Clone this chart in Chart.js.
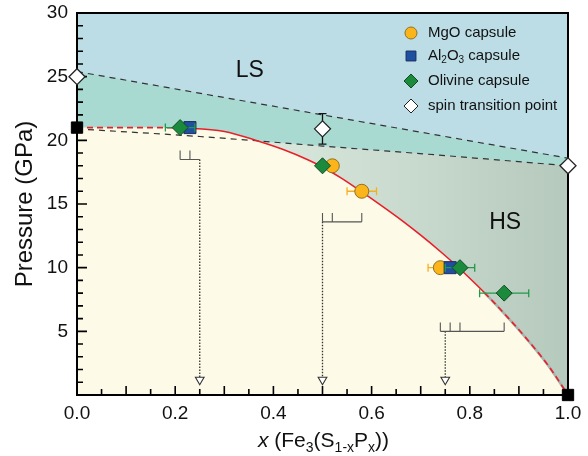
<!DOCTYPE html>
<html>
<head>
<meta charset="utf-8">
<script src="https://cdn.jsdelivr.net/npm/chart.js@4.4.0/dist/chart.umd.min.js"></script>
<style>
html,body{margin:0;padding:0;background:#fff;}
</style>
</head>
<body>
<canvas id="myChart" width="588" height="456"></canvas>
<script>
// boundaries
var lsLineX = [0, 1];
var lsLineY = [25.4, 18.6];
var hsLineX = [0, 0.25, 0.5, 0.75, 1];
var hsLineY = [20.9, 20.3, 19.55, 18.8, 18.0];
var curveX = [0, 0.15, 0.22, 0.3, 0.37, 0.42, 0.47, 0.5, 0.54, 0.58, 0.62, 0.66, 0.7, 0.74, 0.77, 0.83, 0.88, 0.92, 0.96, 1.0];
var curveY = [21, 21, 20.95, 20.7, 19.93, 19.28, 18.48, 17.91, 16.99, 15.95, 14.87, 13.75, 12.55, 11.27, 10.25, 8.03, 5.98, 4.22, 2.3, 0];

// measurements
var mgoX = [0.52, 0.58, 0.74];
var mgoY = [18, 16, 10];
var mgoXErr = [null, [0.55, 0.61], [0.715, 0.765]];
var alX = [0.23, 0.76];
var alY = [21, 10];
var olX = [0.21, 0.50, 0.78, 0.87];
var olY = [21, 18, 10, 8];
var olXErr = [[0.18, 0.24], null, [0.75, 0.81], [0.82, 0.92]];
var spinX = [0, 0.5, 1];
var spinY = [25, 20.9, 18];
var spinYErr = [null, [19.7, 22.1], null];
var endX = [0, 1];
var endY = [21, 0];

// nominal compositions
var arrowX = [0.25, 0.5, 0.75];
var arrowTop = [18.5, 13.6, 5.0];
var arrowTip = 1.2;
var bracketTicks = [[0.21, 0.23], [0.50, 0.52, 0.58], [0.74, 0.76, 0.78, 0.87]];

var FONT = "'Liberation Sans', Arial, sans-serif";

function pts(xs, ys) {
  return xs.map(function(x, i) { return {x: x, y: ys[i]}; });
}

var bracketData = [];
bracketTicks.forEach(function(tk, g) {
  var y = arrowTop[g];
  var lo = Math.min.apply(null, tk.concat([arrowX[g]]));
  var hi = Math.max.apply(null, tk.concat([arrowX[g]]));
  bracketData.push({x: lo, y: y}, {x: hi, y: y}, {x: hi, y: null});
  tk.forEach(function(t) {
    bracketData.push({x: t, y: y}, {x: t, y: y + 0.7}, {x: t, y: null});
  });
});

var arrowSets = arrowX.map(function(x, i) {
  return {
    data: [{x: x, y: arrowTop[i]}, {x: x, y: arrowTip}],
    showLine: true, borderColor: '#333', borderWidth: 1.3, borderDash: [1.5, 1.5],
    pointRadius: [0, 5], pointStyle: 'triangle', rotation: 180,
    pointBackgroundColor: '#fff', pointBorderColor: '#333', pointBorderWidth: 1.1
  };
});

var errorBars = {
  id: 'errorBars',
  beforeDatasetDraw: function(chart, args) {
    var ds = chart.data.datasets[args.index];
    if (!ds.xErr && !ds.yErr) return;
    var xs = chart.scales.x, ys = chart.scales.y, c = chart.ctx;
    c.save();
    c.strokeStyle = ds.errColor;
    c.lineWidth = 1.3;
    ds.data.forEach(function(p, i) {
      var px = xs.getPixelForValue(p.x), py = ys.getPixelForValue(p.y);
      var e = ds.xErr && ds.xErr[i];
      c.beginPath();
      if (e) {
        var a = xs.getPixelForValue(e[0]), b = xs.getPixelForValue(e[1]);
        c.moveTo(a, py); c.lineTo(b, py);
        c.moveTo(a, py - 4); c.lineTo(a, py + 4);
        c.moveTo(b, py - 4); c.lineTo(b, py + 4);
      }
      e = ds.yErr && ds.yErr[i];
      if (e) {
        var t = ys.getPixelForValue(e[1]), u = ys.getPixelForValue(e[0]);
        c.moveTo(px, t); c.lineTo(px, u);
        c.moveTo(px - 4, t); c.lineTo(px + 4, t);
        c.moveTo(px - 4, u); c.lineTo(px + 4, u);
      }
      c.stroke();
    });
    c.restore();
  }
};

var frame = {
  id: 'frame',
  beforeDraw: function(chart) {
    var a = chart.chartArea, c = chart.ctx;
    c.save();
    c.fillStyle = '#bcdde5';
    c.fillRect(a.left, a.top, a.right - a.left, a.bottom - a.top);
    c.restore();
  },
  beforeDatasetsDraw: function(chart) {
    var a = chart.chartArea, c = chart.ctx;
    var xs = chart.scales.x, ys = chart.scales.y;
    c.save();
    c.strokeStyle = '#000';
    c.lineWidth = 1.6;
    c.beginPath();
    for (var v = 1; v < 30; v++) {
      var py = ys.getPixelForValue(v);
      c.moveTo(a.left, py); c.lineTo(a.left + (v % 5 === 0 ? 10 : 6), py);
    }
    for (var i = 1; i < 20; i++) {
      var px = xs.getPixelForValue(i * 0.05);
      c.moveTo(px, a.bottom); c.lineTo(px, a.bottom - (i % 2 === 0 ? 9 : 6));
    }
    c.stroke();
    c.lineWidth = 2;
    c.strokeRect(a.left, a.top, a.right - a.left, a.bottom - a.top);
    c.restore();
  },
  afterDraw: function(chart) {
    var a = chart.chartArea, c = chart.ctx;
    var xs = chart.scales.x, ys = chart.scales.y;
    c.save();
    c.fillStyle = '#111';
    c.textBaseline = 'middle';
    c.textAlign = 'center';
    c.font = '23px ' + FONT;
    c.fillText('LS', xs.getPixelForValue(0.352), ys.getPixelForValue(25.5));
    c.fillText('HS', xs.getPixelForValue(0.872), ys.getPixelForValue(13.55));

    // x axis title with subscripts
    var parts = [['x', 'i'], [' (Fe', ''], ['3', 's'], ['(S', ''], ['1-x', 's'], ['P', ''], ['x', 's'], ['))', '']];
    function fnt(k) {
      return k === 'i' ? 'italic 21px ' + FONT : (k === 's' ? '14px ' + FONT : '21px ' + FONT);
    }
    var w = 0;
    parts.forEach(function(p) { c.font = fnt(p[1]); w += c.measureText(p[0]).width; });
    var x0 = (a.left + a.right) / 2 + 1 - w / 2, base = a.bottom + 52;
    c.textAlign = 'left';
    c.textBaseline = 'alphabetic';
    parts.forEach(function(p) {
      c.font = fnt(p[1]);
      c.fillText(p[0], x0, base + (p[1] === 's' ? 5 : 0));
      x0 += c.measureText(p[0]).width;
    });

    // legend
    var lx = 411, tx = 428, rows = [33, 56, 81, 106];
    var H = Chart.helpers;
    c.lineWidth = 1;
    c.fillStyle = '#fbb41a'; c.strokeStyle = '#8c7328';
    H.drawPoint(c, {pointStyle: 'circle', radius: 6, rotation: 0, borderWidth: 1}, lx, rows[0]);
    c.fillStyle = '#1f4fa0'; c.strokeStyle = '#1b2d5e';
    H.drawPoint(c, {pointStyle: 'rect', radius: 7, rotation: 0, borderWidth: 1}, lx, rows[1]);
    c.fillStyle = '#1b8a3c'; c.strokeStyle = '#124a22';
    H.drawPoint(c, {pointStyle: 'rectRot', radius: 7, rotation: 0, borderWidth: 1}, lx, rows[2]);
    c.fillStyle = '#fff'; c.strokeStyle = '#222';
    H.drawPoint(c, {pointStyle: 'rectRot', radius: 7, rotation: 0, borderWidth: 1.2}, lx, rows[3]);

    c.fillStyle = '#111';
    c.textBaseline = 'middle';
    c.font = '15px ' + FONT;
    c.fillText('MgO capsule', tx, rows[0]);
    var seq = [['Al', 0], ['2', 1], ['O', 0], ['3', 1], [' capsule', 0]];
    var xx = tx;
    seq.forEach(function(s) {
      c.font = (s[1] ? '10px ' : '15px ') + FONT;
      c.fillText(s[0], xx, rows[1] + (s[1] ? 4 : 0));
      xx += c.measureText(s[0]).width;
    });
    c.font = '15px ' + FONT;
    c.fillText('Olivine capsule', tx, rows[2]);
    c.fillText('spin transition point', tx, rows[3]);
    c.restore();
  }
};

var dashSeg = function(c) { return (c.p0.parsed.x < 0.22 || c.p0.parsed.x >= 0.83) ? [6, 4] : undefined; };

var ctx = document.getElementById('myChart');
var myChart = new Chart(ctx, {
  type: 'scatter',
  data: {
    datasets: [
      {
        label: 'spin transition point', data: pts(spinX, spinY), yErr: spinYErr, errColor: '#111',
        pointStyle: 'rectRot', pointRadius: 8, pointBackgroundColor: '#fff',
        pointBorderColor: '#222', pointBorderWidth: 1.3, clip: false
      },
      {
        label: 'end members', data: pts(endX, endY),
        pointStyle: 'rect', pointRadius: 8, pointBackgroundColor: '#000',
        pointBorderColor: '#000', pointBorderWidth: 1, clip: false
      },
      {
        label: 'Olivine capsule', data: pts(olX, olY), xErr: olXErr, errColor: '#23994a',
        pointStyle: 'rectRot', pointRadius: 8, pointBackgroundColor: '#1b8a3c',
        pointBorderColor: '#124a22', pointBorderWidth: 1, clip: false
      },
      {
        label: 'Al2O3 capsule', data: pts(alX, alY),
        pointStyle: 'rect', pointRadius: 8.5, pointBackgroundColor: '#1f4fa0',
        pointBorderColor: '#1b2d5e', pointBorderWidth: 1, clip: false
      },
      {
        label: 'MgO capsule', data: pts(mgoX, mgoY), xErr: mgoXErr, errColor: '#f5b020',
        pointStyle: 'circle', pointRadius: 7, pointBackgroundColor: '#fbb41a',
        pointBorderColor: '#8c7328', pointBorderWidth: 1, clip: false
      },
      {
        label: 'brackets', data: bracketData, showLine: true, spanGaps: false,
        borderColor: '#555', borderWidth: 1.1, pointRadius: 0
      },
      arrowSets[0], arrowSets[1], arrowSets[2],
      {
        label: 'HS boundary', data: pts(curveX, curveY), showLine: true,
        cubicInterpolationMode: 'monotone', borderColor: '#e8202a', borderWidth: 1.6,
        pointRadius: 0, fill: false,
        segment: { borderDash: dashSeg }
      },
      {
        label: 'edge', data: pts(curveX, curveY), showLine: true,
        cubicInterpolationMode: 'monotone', borderColor: '#a9b3ad', borderWidth: 2.6,
        pointRadius: 0, fill: false,
        segment: {
          borderColor: function(c) { return c.p0.parsed.x >= 0.83 ? '#a9b3ad' : 'rgba(0,0,0,0)'; }
        }
      },
      {
        label: 'HS area', data: pts(curveX, curveY), showLine: true,
        cubicInterpolationMode: 'monotone', borderWidth: 0, borderColor: 'rgba(0,0,0,0)',
        pointRadius: 0, fill: 'origin', backgroundColor: '#fdfbe7'
      },
      {
        label: 'lower', data: pts(hsLineX, hsLineY), showLine: true, cubicInterpolationMode: 'monotone',
        borderColor: '#333', borderWidth: 1.2, borderDash: [6, 5], pointRadius: 0, fill: 'origin',
        backgroundColor: function(c) {
          var a = c.chart.chartArea;
          if (!a) return '#cddcd2';
          var g = c.chart.ctx.createLinearGradient(a.left, 0, a.right, 0);
          g.addColorStop(0, '#e4eee3');
          g.addColorStop(0.45, '#d6e5da');
          g.addColorStop(1, '#b6c9bd');
          return g;
        }
      },
      {
        label: 'upper', data: pts(lsLineX, lsLineY), showLine: true,
        borderColor: '#333', borderWidth: 1.2, borderDash: [6, 5], pointRadius: 0,
        fill: 'origin', backgroundColor: '#a8dad2'
      }
    ]
  },
  options: {
    responsive: false,
    animation: false,
    events: [],
    layout: { padding: { left: 0, right: 20, top: 13, bottom: 0 } },
    plugins: {
      legend: { display: false },
      tooltip: { enabled: false },
      filler: { drawTime: 'beforeDatasetsDraw' }
    },
    scales: {
      x: {
        type: 'linear', min: 0, max: 1,
        grid: { display: false, drawTicks: false },
        border: { display: false },
        ticks: {
          stepSize: 0.2, padding: 7, color: '#111', font: { family: FONT, size: 19 },
          callback: function(v) { return v.toFixed(1); }
        },
        afterFit: function(s) { s.height = 61; s.paddingLeft = 0; s.paddingRight = 0; }
      },
      y: {
        min: 0, max: 30,
        grid: { display: false, drawTicks: false },
        border: { display: false },
        ticks: {
          stepSize: 5, padding: 9, color: '#111', font: { family: FONT, size: 19 },
          callback: function(v) { return v === 0 ? '' : v; }
        },
        title: {
          display: true, text: 'Pressure (GPa)', color: '#111',
          font: { family: FONT, size: 24 }, padding: { top: 11, bottom: 0 }
        },
        afterFit: function(s) { s.width = 77; s.paddingTop = 0; s.paddingBottom = 0; }
      }
    }
  },
  plugins: [errorBars, frame]
});
</script>
</body>
</html>
